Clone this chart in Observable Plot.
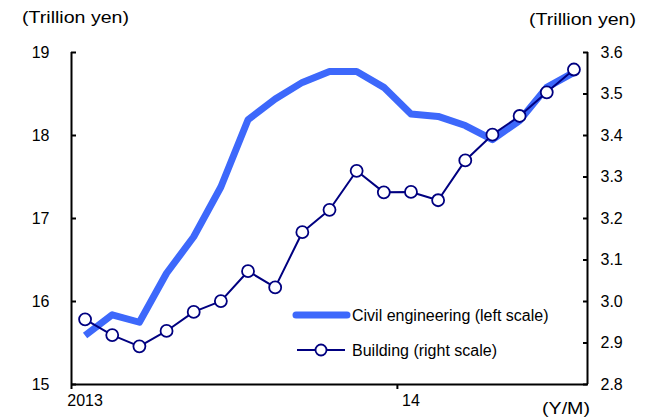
<!DOCTYPE html>
<html>
<head>
<meta charset="utf-8">
<script src="https://cdn.jsdelivr.net/npm/d3@7"></script>
<script src="https://cdn.jsdelivr.net/npm/@observablehq/plot@0.6"></script>
<style>
  html, body { margin: 0; padding: 0; background: #fff; }
  svg { display: block; }
</style>
</head>
<body>
<div id="chart"></div>
<script>
// Monthly construction orders, January 2013 to July 2014 (trillion yen)
const months = [
  "2013/1", "2013/2", "2013/3", "2013/4", "2013/5", "2013/6", "2013/7", "2013/8", "2013/9", "2013/10",
  "2013/11", "2013/12", "2014/1", "2014/2", "2014/3", "2014/4", "2014/5", "2014/6", "2014/7"
];
// Civil engineering, left scale
const civil = [
  15.59, 15.84, 15.75, 16.34, 16.78, 17.38, 18.19, 18.44, 18.64, 18.77,
  18.77, 18.58, 18.26, 18.23, 18.12, 17.95, 18.18, 18.58, 18.76
];
// Building, right scale
const building = [
  2.957, 2.919, 2.892, 2.929, 2.975, 3.001, 3.073, 3.034, 3.167, 3.221,
  3.315, 3.263, 3.264, 3.244, 3.340, 3.402, 3.447, 3.504, 3.559
];
const leftTicks = [15, 16, 17, 18, 19];
const rightTicks = [2.8, 2.9, 3.0, 3.1, 3.2, 3.3, 3.4, 3.5, 3.6];
const yearLabels = [{month: "2013/1", text: "2013"}, {month: "2014/1", text: "14"}];
const seriesNames = ["Civil engineering (left scale)", "Building (right scale)"];
const unitLabel = "(Trillion yen)";
const xLabel = "(Y/M)";

const leftDomain = [15, 19];
const rightDomain = [2.8, 3.6];
// map a right-scale value onto the left scale and back
const toLeft = v => leftDomain[0] + (v - rightDomain[0]) * (leftDomain[1] - leftDomain[0]) / (rightDomain[1] - rightDomain[0]);
const fromLeft = v => rightDomain[0] + (v - leftDomain[0]) * (rightDomain[1] - rightDomain[0]) / (leftDomain[1] - leftDomain[0]);

const rows = months.map((m, i) => ({i, month: m, civil: civil[i], building: toLeft(building[i])}));
const idx = m => months.indexOf(m);
// year boundaries sit half a month before each January
const yearEdges = yearLabels.map(d => idx(d.month) - 0.5);
const yearPos = yearLabels.map(d => idx(d.month));

const civilColor = "#3d68fb";
const buildingColor = "#000080";
const font = "'Liberation Sans', Arial, Helvetica, sans-serif";

const chart = Plot.plot({
  width: 652,
  height: 417,
  marginLeft: 71,
  marginRight: 65,
  marginTop: 52,
  marginBottom: 33,
  style: {fontFamily: font, fontSize: "16px", color: "#000", background: "#fff"},
  x: {domain: [-0.5, months.length - 0.5], label: null},
  y: {domain: leftDomain, label: null},
  marks: [
    // left axis: inward ticks, labels outside
    Plot.axisY(leftTicks, {anchor: "left", tickSize: 5, dx: 5, tickPadding: 22, strokeWidth: 2,
      tickFormat: d => String(d), fontSize: 16, label: null}),
    // right axis, building values
    Plot.axisY(rightTicks.map(toLeft), {anchor: "right", tickSize: 5, dx: -5, tickPadding: 13, strokeWidth: 2,
      tickFormat: d => fromLeft(d).toFixed(1), fontSize: 16, label: null}),
    // bottom axis: ticks at year boundaries, labels on January
    Plot.axisX(yearEdges, {anchor: "bottom", tickSize: 5, strokeWidth: 2, tickFormat: () => "", label: null}),
    Plot.axisX(yearPos, {anchor: "bottom", tickSize: 0, tickPadding: 10,
      tickFormat: v => yearLabels.find(d => idx(d.month) === v).text, fontSize: 16, label: null}),
    Plot.ruleX([-0.5, months.length - 0.5], {stroke: "#000", strokeWidth: 2}),
    Plot.ruleY([leftDomain[0]], {stroke: "#000", strokeWidth: 2}),
    // series
    Plot.line(rows, {x: "i", y: "civil", stroke: civilColor, strokeWidth: 7, strokeLinejoin: "round", strokeLinecap: "butt"}),
    Plot.line(rows, {x: "i", y: "building", stroke: buildingColor, strokeWidth: 2}),
    Plot.dot(rows, {x: "i", y: "building", r: 6, fill: "#fff", stroke: buildingColor, strokeWidth: 1.8})
  ]
});

document.getElementById("chart").appendChild(chart);

// titles, x-axis unit and legend
const svg = d3.select(chart);
const addText = (x, y, text, anchor, size, length) => {
  const t = svg.append("text")
    .attr("x", x).attr("y", y)
    .attr("text-anchor", anchor)
    .attr("font-family", font)
    .attr("font-size", size)
    .attr("fill", "#000")
    .text(text);
  if (length) t.attr("textLength", length).attr("lengthAdjust", "spacingAndGlyphs");
  return t;
};
addText(22, 23, unitLabel, "start", 17, 107);
addText(636, 25, unitLabel, "end", 17, 107);
addText(590, 414, xLabel, "end", 17, 48);

const legend = svg.append("g");
legend.append("line")
  .attr("x1", 296).attr("x2", 347).attr("y1", 315).attr("y2", 315)
  .attr("stroke", civilColor).attr("stroke-width", 7).attr("stroke-linecap", "round");
legend.append("line")
  .attr("x1", 297).attr("x2", 345).attr("y1", 350).attr("y2", 350)
  .attr("stroke", buildingColor).attr("stroke-width", 2);
legend.append("circle")
  .attr("cx", 321).attr("cy", 350).attr("r", 5.5)
  .attr("fill", "#fff").attr("stroke", buildingColor).attr("stroke-width", 1.8);
addText(352, 320.5, seriesNames[0], "start", 16);
addText(352, 355.5, seriesNames[1], "start", 16);
</script>
</body>
</html>
